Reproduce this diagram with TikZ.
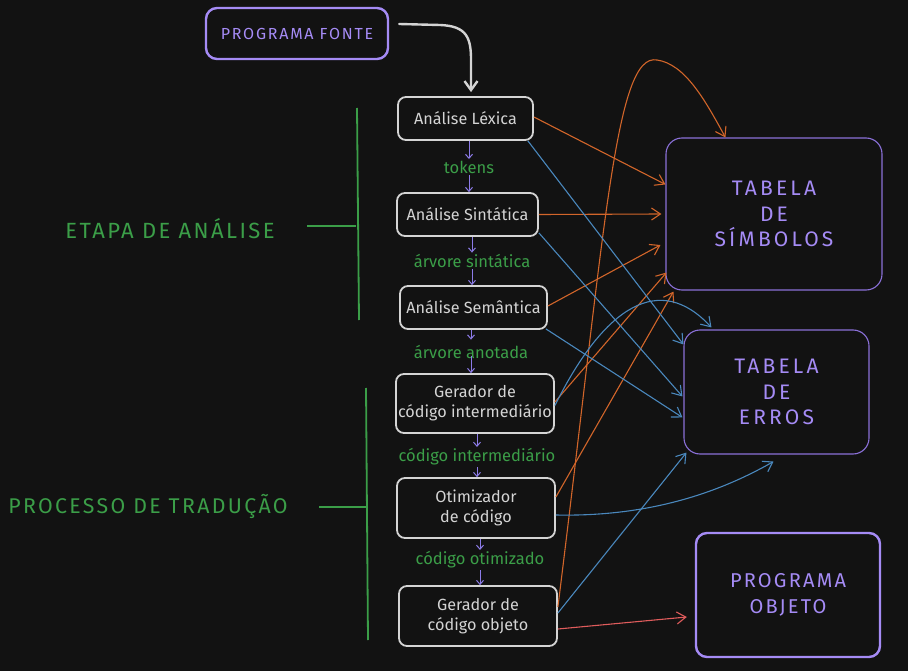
\documentclass[tikz,border=0pt]{standalone}
\usepackage{fontspec}
\setmainfont{Fira Sans}
\newfontfamily\capsfont[LetterSpace=11]{Fira Sans}
\newfontfamily\widecaps[LetterSpace=15]{Fira Sans}
\usetikzlibrary{arrows.meta,calc}
\definecolor{bg}{HTML}{121212}
\definecolor{boxgray}{HTML}{D4D4D4}
\definecolor{lpurple}{HTML}{A58BF5}
\definecolor{tpurple}{HTML}{8A70D8}
\definecolor{apurple}{HTML}{8C7BE8}
\definecolor{lgreen}{HTML}{3B9E48}
\definecolor{lorange}{HTML}{D2652A}
\definecolor{lblue}{HTML}{4A88BD}
\definecolor{lred}{HTML}{E05C5C}
\tikzset{
  stepbox/.style={draw=boxgray, line width=1.8pt, rounded corners=8pt, fill=bg, text=boxgray,
    font=\fontsize{16.2}{20}\selectfont, align=center, inner sep=0pt},
  progbox/.style={draw=lpurple, line width=2.4pt, rounded corners=11pt, fill=bg, text=lpurple,
    align=center, inner sep=0pt},
  tabbox/.style={draw=tpurple, line width=1.1pt, rounded corners=16pt, fill=bg, text=lpurple,
    font=\widecaps\fontsize{21}{25.5}\selectfont, align=center, inner sep=0pt},
  flowlabel/.style={text=lgreen, font=\fontsize{16.5}{18}\selectfont, inner sep=1.5pt},
  grouplabel/.style={text=lgreen, font=\capsfont\fontsize{22}{24}\selectfont, inner sep=0pt},
  bracket/.style={draw=lgreen, line width=1.8pt},
  smallarrow/.style={draw=apurple, line width=1pt, -{Straight Barb[length=4pt,width=7pt]}},
  conn/.style={line width=1.1pt, -{Straight Barb[length=9pt,width=12pt]}},
  oconn/.style={conn, draw=lorange},
  bconn/.style={conn, draw=lblue},
  rconn/.style={conn, draw=lred},
}
\begin{document}
\begin{tikzpicture}[x=1pt,y=-1pt]
\fill[bg] (0,0) rectangle (908,671);
\useasboundingbox (0,0) rectangle (908,671);

% main boxes
\node[progbox, minimum width=182pt, minimum height=51pt, font=\capsfont\fontsize{16}{18}\selectfont] (fonte) at (297,33.5) {PROGRAMA FONTE};
\node[stepbox, minimum width=135pt, minimum height=43pt] (lex) at (465.5,118.5) {Análise Léxica};
\node[stepbox, minimum width=141pt, minimum height=43pt] (sin) at (467.5,214.5) {Análise Sintática};
\node[stepbox, minimum width=147pt, minimum height=43pt] (sem) at (473.5,307.5) {Análise Semântica};
\node[stepbox, minimum width=158pt, minimum height=59pt] (gi) at (475,403.5) {Gerador de\\código intermediário};
\node[stepbox, minimum width=158pt, minimum height=60pt] (oti) at (476,508) {Otimizador\\de código};
\node[stepbox, minimum width=158pt, minimum height=60pt] (gob) at (478,616) {Gerador de\\código objeto};

\node[tabbox, minimum width=216pt, minimum height=152pt] (simb) at (774,214) {TABELA\\DE\\SÍMBOLOS};
\node[tabbox, minimum width=185pt, minimum height=124pt] (err) at (776.5,392) {TABELA\\DE\\ERROS};
\node[progbox, minimum width=184pt, minimum height=124pt, font=\capsfont\fontsize{20}{26}\selectfont] (obj) at (788,595) {PROGRAMA\\OBJETO};

% flow labels
\node[flowlabel] (tok) at (469,167) {tokens};
\node[flowlabel] (asin) at (472,261) {árvore sintática};
\node[flowlabel] (aano) at (471,352) {árvore anotada};
\node[flowlabel] (cint) at (477,457) {código intermediário};
\node[flowlabel] (cot) at (480,560) {código otimizado};

% vertical flow arrows
\draw[smallarrow] (lex.south -| tok.north) -- (tok.north);
\draw[smallarrow] (tok.south) -- (tok.south |- sin.north);
\draw[smallarrow] (sin.south -| asin.north) -- (asin.north);
\draw[smallarrow] (asin.south) -- (asin.south |- sem.north);
\draw[smallarrow] (sem.south -| aano.north) -- ([yshift=4pt]aano.north);
\draw[smallarrow] ([yshift=4pt]aano.south) -- (aano.south |- gi.north);
\draw[smallarrow] (gi.south -| cint.north) -- (cint.north);
\draw[smallarrow] (cint.south) -- (cint.south |- oti.north);
\draw[smallarrow] (oti.south -| cot.north) -- (cot.north);
\draw[smallarrow] (cot.south) -- (cot.south |- gob.north);

% source arrow
\draw[draw=boxgray, line width=2.4pt, line cap=round, -{Straight Barb[length=9pt,width=13pt]}]
  ([xshift=10pt,yshift=9.5pt]fonte.east) -- (440,25) .. controls (467,26) and (471,38) .. (471,60) -- ([xshift=5.5pt,yshift=4pt]lex.north);

% group labels and brackets
\node[grouplabel] (etapa) at (170,229) {ETAPA DE ANÁLISE};
\node[grouplabel, font=\capsfont\fontsize{21.3}{24}\selectfont] (proc) at (148,506) {PROCESSO DE TRADUÇÃO};
\coordinate (ea1) at (357,108);
\coordinate (ea2) at (359,320);
\coordinate (pt1) at (366,388);
\coordinate (pt2) at (368,640);
\coordinate (eam) at (356,226);
\coordinate (ptm) at (366,507);
\draw[bracket] (ea1) -- (ea2);
\draw[bracket] (307,226) -- (eam);
\draw[bracket] (pt1) -- (pt2);
\draw[bracket] (319,507) -- (ptm);

% orange connectors to symbol table
\draw[oconn] ([yshift=1.5pt]lex.east) -- ([yshift=-47pt]simb.north west);
\draw[oconn] (sin.east) -- ([xshift=-4pt]simb.west);
\draw[oconn] ([yshift=1.5pt]sem.east) -- ([xshift=-5pt,yshift=-31pt]simb.west);
\draw[oconn] ([yshift=1.5pt]gi.east) -- ([xshift=1pt,yshift=18pt]simb.south west);
\draw[oconn] ([yshift=11pt]oti.east) -- ([xshift=8pt,yshift=-1pt]simb.south west);
\draw[oconn] ([yshift=9pt]gob.east) .. controls (605,230) and (615,52) .. (657,60)
  .. controls (685,64) and (705,100) .. ([xshift=60pt]simb.north west);

% blue connectors to error table
\draw[bconn] ([xshift=-6pt]lex.south east) -- ([yshift=-15pt]err.north west);
\draw[bconn] ([yshift=4pt]sin.south east) -- ([xshift=-1pt,yshift=-67pt]err.north west);
\draw[bconn] ([xshift=-2pt,yshift=1pt]sem.south east) -- ([xshift=-1pt,yshift=-88pt]err.north west);
\draw[bconn] ([yshift=-2pt]gi.east) .. controls (605,305) and (660,272) .. ([xshift=28pt,yshift=2pt]err.north west);
\draw[bconn] ([yshift=-7pt]oti.east) .. controls (650,517) and (720,492) .. ([xshift=-3pt,yshift=-7pt]err.south);
\draw[bconn] ([yshift=3pt]gob.east) -- ([xshift=3pt,yshift=2pt]err.south west);

% red connector to object program
\draw[rconn] ([yshift=-13pt]gob.east) -- ([xshift=-8pt,yshift=-22pt]obj.west);
\end{tikzpicture}
\end{document}
